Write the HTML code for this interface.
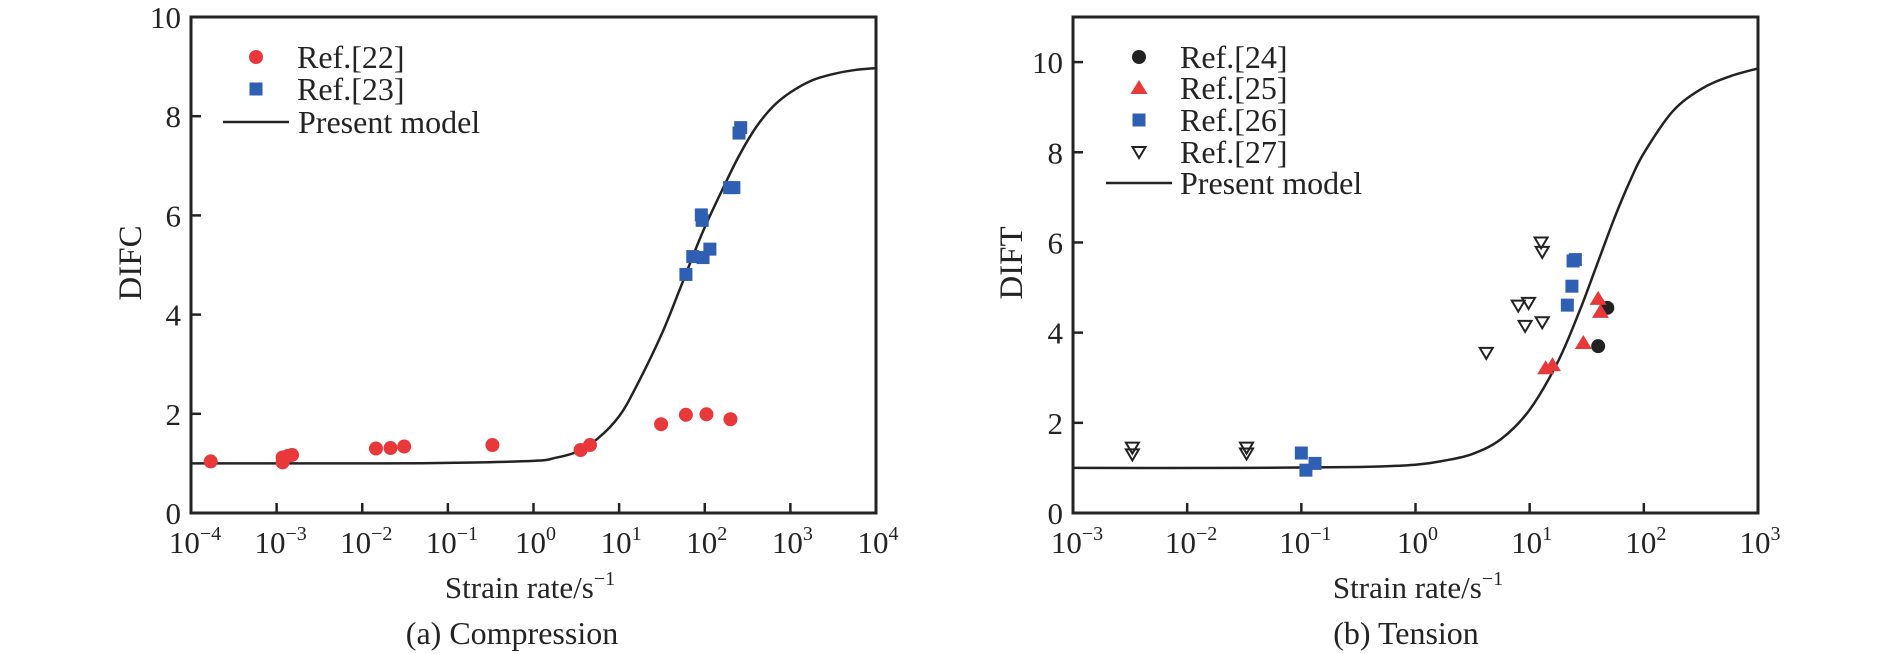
<!DOCTYPE html>
<html><head><meta charset="utf-8"><style>
html,body{margin:0;padding:0;background:#fff;}
svg{display:block;font-family:"Liberation Serif",serif;}
</style></head><body>
<svg id="fig" width="1890" height="654" viewBox="0 0 1890 654" xmlns="http://www.w3.org/2000/svg"></svg>
<script>
// ---------- Data: (a) Compression ----------
const compTicksX = [-4,-3,-2,-1,0,1,2,3,4];
const compTicksY = [0,2,4,6,8,10];
const ref22 = [[-3.77,1.04],[-2.93,1.02],[-2.93,1.12],[-2.87,1.15],[-2.82,1.17],[-1.84,1.3],[-1.67,1.31],[-1.51,1.34],[-0.48,1.37],[0.55,1.27],[0.66,1.37],[1.49,1.79],[1.78,1.98],[2.02,1.99],[2.3,1.89]];
const ref23 = [[1.78,4.81],[1.86,5.17],[1.98,5.15],[2.06,5.32],[1.96,6.01],[1.97,5.9],[2.29,6.56],[2.34,6.56],[2.4,7.66],[2.42,7.77]];
const compModelU = [-4,-2,-1,0,0.25,0.5,0.75,1.0,1.2,1.5,1.72,1.97,2.2,2.4,2.6,2.8,3.0,3.25,3.5,3.75,4];
const compModelV = [1.0,1.0,1.01,1.05,1.11,1.23,1.5,1.95,2.55,3.62,4.56,5.64,6.5,7.2,7.78,8.2,8.48,8.72,8.85,8.93,8.97];
// ---------- Data: (b) Tension ----------
const tensTicksX = [-3,-2,-1,0,1,2,3];
const tensTicksY = [0,2,4,6,8,10];
const ref24 = [[1.68,4.55],[1.6,3.7]];
const ref25 = [[1.6,4.75],[1.62,4.46],[1.47,3.77],[1.14,3.21],[1.2,3.28]];
const ref26 = [[1.38,5.59],[1.4,5.62],[1.37,5.03],[1.33,4.61],[-1.0,1.33],[-0.88,1.1],[-0.96,0.95]];
const ref27 = [[1.1,6.0],[1.11,5.79],[0.9,4.6],[0.99,4.66],[0.96,4.15],[1.11,4.23],[0.62,3.55],[-2.48,1.45],[-2.48,1.3],[-1.48,1.45],[-1.48,1.32]];
const tensModelU = [-3,-1.5,-0.5,0,0.25,0.5,0.75,1,1.25,1.44,1.6,1.75,1.88,2,2.25,2.5,2.75,3];
const tensModelV = [1.0,1.0,1.02,1.07,1.16,1.31,1.64,2.29,3.37,4.5,5.58,6.59,7.37,7.98,8.9,9.4,9.68,9.86];

const NS="http://www.w3.org/2000/svg";
const svg=document.getElementById('fig');
function el(tag,attrs,parent){const e=document.createElementNS(NS,tag);for(const k in attrs)e.setAttribute(k,attrs[k]);(parent||svg).appendChild(e);return e;}
const INK="#232323";

function smoothPath(pts){
  let d="M"+pts[0][0]+","+pts[0][1];
  for(let i=0;i<pts.length-1;i++){
    const p0=pts[Math.max(0,i-1)],p1=pts[i],p2=pts[i+1],p3=pts[Math.min(pts.length-1,i+2)];
    const c1x=p1[0]+(p2[0]-p0[0])/6,c1y=p1[1]+(p2[1]-p0[1])/6;
    const c2x=p2[0]-(p3[0]-p1[0])/6,c2y=p2[1]-(p3[1]-p1[1])/6;
    d+=" C"+c1x+","+c1y+" "+c2x+","+c2y+" "+p2[0]+","+p2[1];
  }
  return d;
}

function drawPanel(cfg){
  const g=el('g',{});
  
  
  const X=u=>cfg.x0+(u-cfg.umin)/(cfg.umax-cfg.umin)*(cfg.x1-cfg.x0);
  const Y=v=>cfg.y1-(v-cfg.vmin)/(cfg.vmax-cfg.vmin)*(cfg.y1-cfg.y0);
  cfg.ticksX.forEach(t=>{
    const x=X(t);
    if(t!==cfg.umin&&t!==cfg.umax){const tk=el('line',{x1:x,x2:x,y1:cfg.y1,y2:cfg.y1-10,stroke:INK,'stroke-width':2.5},g);
    
    }
    const tx=el('text',{x:x+(t<0?4:2),y:cfg.y1+40,'font-size':31,'text-anchor':'middle',fill:INK},g);
    
    
    tx.textContent="10";
    const s=el('tspan',{dy:-13,'font-size':20},tx);
    s.textContent=(t<0?"\u2212":"")+Math.abs(t);
  });
  cfg.ticksY.forEach(t=>{
    const y=Y(t);
    if(t!==cfg.vmin){const tk=el('line',{x1:cfg.x0,x2:cfg.x0+10,y1:y,y2:y,stroke:INK,'stroke-width':2.5},g);
    
    }
    const tx=el('text',{x:cfg.x0-10,y:y+11,'font-size':31,'text-anchor':'end',fill:INK},g);
    
    
    tx.textContent=t;
  });
  const pts=cfg.modelU.map((u,i)=>[X(u),Y(cfg.modelV[i])]);
  const mp=el('path',{d:smoothPath(pts),fill:'none',stroke:INK,'stroke-width':2.5},g);
  
  
  cfg.series.forEach(s=>{
    s.data.forEach(p=>{
      const m=drawMarker(g,s.type,X(p[0]),Y(p[1]));
      
      
    });
  });
  const fr=el('rect',{x:cfg.x0,y:cfg.y0,width:cfg.x1-cfg.x0,height:cfg.y1-cfg.y0,fill:'none',stroke:INK,'stroke-width':3},g);
  
  
  const yt=el('text',{x:0,y:0,'font-size':33,'text-anchor':'middle',fill:INK,transform:`translate(${cfg.ytX},263) rotate(-90)`},g);
  
  
  yt.textContent=cfg.ytitle;
  const xt=el('text',{x:cfg.xtX,y:598,'font-size':31,'text-anchor':'middle',fill:INK},g);
  
  
  xt.textContent="Strain rate/s";
  const sp=el('tspan',{dy:-13,'font-size':20},xt); sp.textContent="\u22121";
  const cp=el('text',{x:cfg.capX,y:644,'font-size':32,'text-anchor':'middle',fill:INK},g);
  
  
  cp.textContent=cfg.caption;
  cfg.legend.forEach((L,i)=>{
    const y=L.y;
    const lg=el('g',{},g);
    
    
    if(L.type==='line') el('line',{x1:L.lx0,x2:L.lx1,y1:y,y2:y,stroke:INK,'stroke-width':2.5},lg);
    else drawMarker(lg,L.type,L.mx,y);
    const t=el('text',{x:L.tx,y:y+11,'font-size':32,fill:INK},lg);
    t.textContent=L.label;
  });
}
function drawMarker(g,type,x,y){
  if(type==='circle-red') return el('circle',{cx:x,cy:y,r:7,fill:'#e8383a'},g);
  if(type==='circle-black') return el('circle',{cx:x,cy:y,r:7,fill:'#222'},g);
  if(type==='square') return el('rect',{x:x-6.5,y:y-6.5,width:13,height:13,fill:'#2f5fb3'},g);
  if(type==='tri') return el('polygon',{points:`${x},${y-8} ${x-8.5},${y+6} ${x+8.5},${y+6}`,fill:'#e8383a'},g);
  if(type==='itri') return el('polygon',{points:`${x-6.5},${y-5} ${x+6.5},${y-5} ${x},${y+6}`,fill:'none',stroke:'#222','stroke-width':2},g);
}

drawPanel({name:'compression-chart',x0:191,x1:876,y0:17,y1:513,umin:-4,umax:4,vmin:0,vmax:10,
  ticksX:compTicksX,ticksY:compTicksY,modelU:compModelU,modelV:compModelV,
  series:[{name:'ref22',type:'circle-red',data:ref22},{name:'ref23',type:'square',data:ref23}],
  ytitle:'DIFC',ytX:141,xtX:530,capX:512,caption:'(a) Compression',
  legend:[{type:'circle-red',mx:256,tx:297,y:57,label:'Ref.[22]'},
          {type:'square',mx:256,tx:297,y:89,label:'Ref.[23]'},
          {type:'line',lx0:223,lx1:289,tx:298,y:122,label:'Present model'}]});
drawPanel({name:'tension-chart',x0:1073,x1:1758,y0:17,y1:513,umin:-3,umax:3,vmin:0,vmax:11,
  ticksX:tensTicksX,ticksY:tensTicksY,modelU:tensModelU,modelV:tensModelV,
  series:[{name:'ref24',type:'circle-black',data:ref24},{name:'ref25',type:'tri',data:ref25},
          {name:'ref26',type:'square',data:ref26},{name:'ref27',type:'itri',data:ref27}],
  ytitle:'DIFT',ytX:1022,xtX:1418,capX:1406,caption:'(b) Tension',
  legend:[{type:'circle-black',mx:1139,tx:1180,y:57,label:'Ref.[24]'},
          {type:'tri',mx:1139,tx:1180,y:88,label:'Ref.[25]'},
          {type:'square',mx:1139,tx:1180,y:120,label:'Ref.[26]'},
          {type:'itri',mx:1139,tx:1180,y:152,label:'Ref.[27]'},
          {type:'line',lx0:1106,lx1:1172,tx:1180,y:183,label:'Present model'}]});
</script>
</body></html>
